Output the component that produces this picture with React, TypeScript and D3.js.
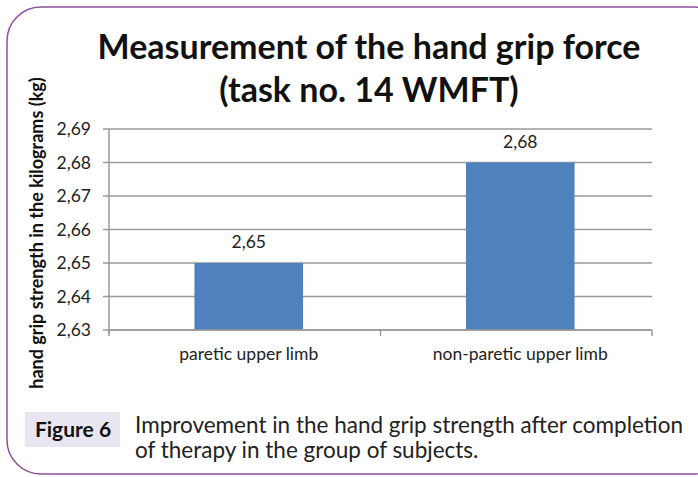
import React, { useEffect, useRef } from 'react';
import * as d3 from 'd3';

const categories = ['paretic upper limb', 'non-paretic upper limb'];
const values = [2.65, 2.68];
const yTicks = [2.63, 2.64, 2.65, 2.66, 2.67, 2.68, 2.69];
const titleLines = ['Measurement of the hand grip force', '(task no. 14 WMFT)'];
const yLabel = 'hand grip strength in the kilograms (kg)';
const captionLines = [
  'Improvement in the hand grip strength after completion',
  'of therapy in the group of subjects.',
];

const fmt = (v: number) => v.toFixed(2).replace('.', ',');

const App = () => {
  const ref = useRef<SVGSVGElement | null>(null);

  useEffect(() => {
    if (!ref.current) return;
    const svg = d3.select(ref.current);
    svg.selectAll('*').remove();

    const font = 'Lato, "Open Sans", sans-serif';

    // frame
    svg.append('rect')
      .attr('x', 7).attr('y', 7)
      .attr('width', 720).attr('height', 467)
      .attr('rx', 34).attr('ry', 34)
      .attr('fill', 'white')
      .attr('stroke', '#8e4f9e')
      .attr('stroke-width', 1.5);

    // title
    svg.append('g').selectAll('text')
      .data(titleLines)
      .enter().append('text')
      .attr('x', 369)
      .attr('y', (d, i) => 59 + i * 43)
      .attr('text-anchor', 'middle')
      .attr('font-family', font)
      .attr('font-weight', 'bold')
      .attr('font-size', 34)
      .attr('fill', '#111')
      .text(d => d);

    const x = d3.scaleBand()
      .domain(categories)
      .range([109, 652])
      .paddingInner(0.6)
      .paddingOuter(0.3);
    const shift = 4;

    const y = d3.scaleLinear()
      .domain([2.63, 2.69])
      .range([330, 129]);

    // gridlines
    svg.append('g').selectAll('line')
      .data(yTicks)
      .enter().append('line')
      .attr('x1', 103).attr('x2', 652)
      .attr('y1', d => y(d)).attr('y2', d => y(d))
      .attr('stroke', '#9a9a9a')
      .attr('stroke-width', 1.5);

    // y tick labels
    svg.append('g').selectAll('text')
      .data(yTicks)
      .enter().append('text')
      .attr('x', 91)
      .attr('y', d => y(d) + 6)
      .attr('text-anchor', 'end')
      .attr('font-family', font)
      .attr('font-size', 17.5)
      .attr('fill', '#222')
      .text(d => fmt(d));

    // bars
    svg.append('g').selectAll('rect')
      .data(values)
      .enter().append('rect')
      .attr('x', (d, i) => (x(categories[i]) as number) + shift)
      .attr('y', d => y(d))
      .attr('width', x.bandwidth())
      .attr('height', d => y(2.63) - y(d))
      .attr('fill', '#4f81bd');

    // value labels
    svg.append('g').selectAll('text')
      .data(values)
      .enter().append('text')
      .attr('x', (d, i) => (x(categories[i]) as number) + shift + x.bandwidth() / 2)
      .attr('y', d => y(d) - 15)
      .attr('text-anchor', 'middle')
      .attr('font-family', font)
      .attr('font-size', 17.5)
      .attr('fill', '#222')
      .text(d => fmt(d));

    // axes lines
    svg.append('line')
      .attr('x1', 109).attr('x2', 109)
      .attr('y1', 129).attr('y2', 335)
      .attr('stroke', '#9a9a9a').attr('stroke-width', 1.5);
    svg.append('line')
      .attr('x1', 109).attr('x2', 652)
      .attr('y1', 330).attr('y2', 330)
      .attr('stroke', '#9a9a9a').attr('stroke-width', 1.5);
    svg.append('g').selectAll('line')
      .data([0, 1, 2])
      .enter().append('line')
      .attr('x1', i => 109 + i * x.step()).attr('x2', i => 109 + i * x.step())
      .attr('y1', 330).attr('y2', 336)
      .attr('stroke', '#9a9a9a').attr('stroke-width', 1.5);

    // category labels
    svg.append('g').selectAll('text')
      .data(categories)
      .enter().append('text')
      .attr('x', d => (x(d) as number) + shift + x.bandwidth() / 2)
      .attr('y', 360)
      .attr('text-anchor', 'middle')
      .attr('font-family', font)
      .attr('font-size', 17.5)
      .attr('fill', '#222')
      .text(d => d);

    // y label
    svg.append('text')
      .attr('transform', 'translate(43,233) rotate(-90)')
      .attr('text-anchor', 'middle')
      .attr('font-family', font)
      .attr('font-weight', 'bold')
      .attr('font-size', 18)
      .attr('fill', '#111')
      .text(yLabel);

    // figure caption
    svg.append('rect')
      .attr('x', 25).attr('y', 412)
      .attr('width', 95).attr('height', 35)
      .attr('fill', '#e9e6f1');
    svg.append('text')
      .attr('x', 73).attr('y', 437)
      .attr('text-anchor', 'middle')
      .attr('font-family', font)
      .attr('font-weight', 'bold')
      .attr('font-size', 21)
      .attr('fill', '#111')
      .text('Figure 6');
    svg.append('g').selectAll('text')
      .data(captionLines)
      .enter().append('text')
      .attr('x', 135)
      .attr('y', (d, i) => 433 + i * 25)
      .attr('font-family', font)
      .attr('font-size', 22.5)
      .attr('fill', '#222')
      .text(d => d);
  }, []);

  return (
    <svg
      ref={ref}
      width={698}
      height={477}
      style={{ position: 'absolute', left: 0, top: 0, background: 'white' }}
    />
  );
};

export default App;
